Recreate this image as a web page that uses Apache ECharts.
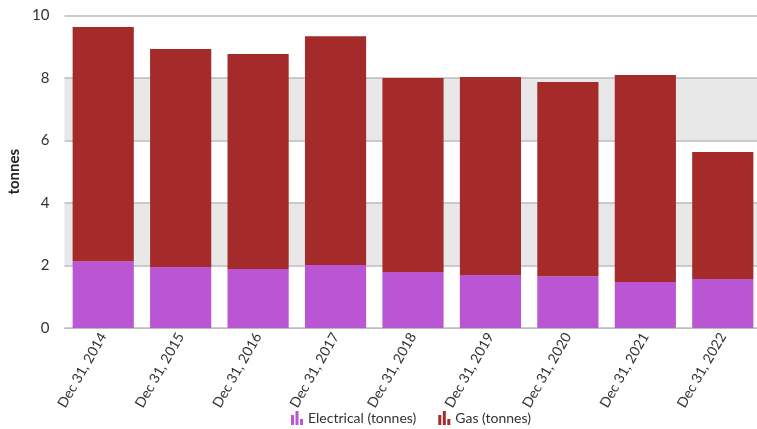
<!DOCTYPE html>
<html><head><meta charset="utf-8">
<script src="https://cdn.jsdelivr.net/npm/echarts@6/dist/echarts.min.js"></script>
<style>html,body{margin:0;padding:0;background:#fff}#c{width:757px;height:429px}</style>
</head><body><div id="c"></div>
<script>
const categories = ["Dec 31, 2014","Dec 31, 2015","Dec 31, 2016","Dec 31, 2017","Dec 31, 2018","Dec 31, 2019","Dec 31, 2020","Dec 31, 2021","Dec 31, 2022"];
const electrical = [2.14,1.95,1.89,2.02,1.79,1.70,1.66,1.47,1.57];
const gas = [7.49,6.98,6.88,7.32,6.21,6.33,6.21,6.63,4.06];
const yTicks = [0,2,4,6,8,10];

const icon = 'path://M0,4H3V14H0Z M4.5,0H7.5V14H4.5Z M9,8H12V14H9Z';
const FONT = 'Lato';
const chart = echarts.init(document.getElementById('c'));
chart.setOption({
  animation:false,
  textStyle:{fontFamily:FONT},
  grid:{left:64.5,width:697,top:15.5,bottom:101,containLabel:false,outerBoundsMode:'none'},
  legend:{
    bottom:-1,left:286,itemWidth:12,itemHeight:15,itemGap:22,icon:icon,
    textStyle:{fontFamily:FONT,fontSize:14,color:'#333'},
    data:['Electrical (tonnes)','Gas (tonnes)']
  },
  xAxis:{
    type:'category',data:categories,
    axisLine:{lineStyle:{color:'#bbb'}},axisTick:{show:false},
    axisLabel:{rotate:60,fontFamily:FONT,fontSize:14,color:'#333',margin:6,interval:0}
  },
  yAxis:{
    type:'value',min:yTicks[0],max:yTicks[yTicks.length-1],interval:2,
    name:'tonnes',nameLocation:'middle',nameGap:36,
    nameTextStyle:{fontFamily:FONT,fontSize:15,fontWeight:'bold',color:'#222'},
    axisLine:{show:false},axisTick:{show:false},
    axisLabel:{fontFamily:FONT,fontSize:15,color:'#333',margin:15},
    splitLine:{lineStyle:{color:'#bbb',width:1.5}},
    splitArea:{show:true,areaStyle:{color:['#ffffff','#e8e8e8']}}
  },
  series:[
    {name:'Electrical (tonnes)',type:'bar',stack:'t',data:electrical,itemStyle:{color:'#BA55D3'},barCategoryGap:'21%'},
    {name:'Gas (tonnes)',type:'bar',stack:'t',data:gas,itemStyle:{color:'#A52A2A'},barCategoryGap:'21%'}
  ]
});
</script></body></html>
